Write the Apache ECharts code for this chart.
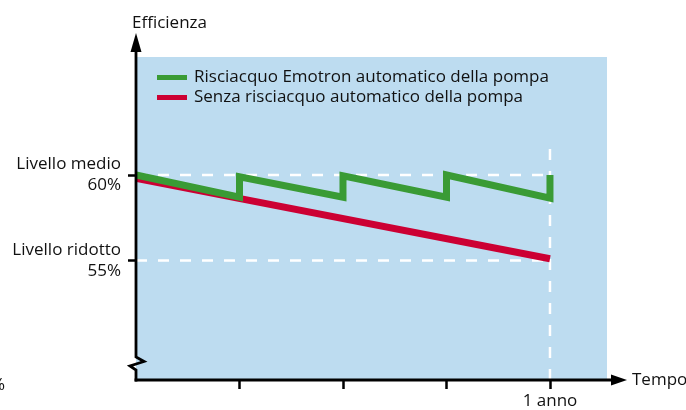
<!DOCTYPE html>
<html>
<head>
<meta charset="utf-8">
<script src="https://cdn.jsdelivr.net/npm/echarts@6/dist/echarts.min.js"></script>
<style>
html,body{margin:0;padding:0;background:#fff;}
#chart{width:686px;height:410px;}
</style>
</head>
<body>
<div id="chart"></div>
<script>
// ---- data ----
const seriesNames = ['Risciacquo Emotron automatico della pompa', 'Senza risciacquo automatico della pompa'];
const greenTime = [0, 1, 1, 2, 2, 3, 3, 4, 4];
const greenEff = [60, 58.7, 59.9, 58.7, 59.95, 58.7, 60, 58.65, 60];
const redTime = [0, 4];
const redEff = [59.8, 55.1];
const yTickValues = [55, 60];
const yTickLabels = ['Livello ridotto\n55%', 'Livello medio\n60%'];
const xTickValues = [1, 2, 3, 4];
const xLabelValues = [4];
const xLabelTexts = ['1 anno'];
const refLevels = [60, 55];
const refTime = 4;
const yName = 'Efficienza';
const xName = 'Tempo';

// ---- styles ----
const FONT = 'Open Sans';
const GREEN = '#3a9b35';
const RED = '#cc0033';
const BLUE = '#bddcf0';
const Y_MIN = 48.01, Y_MAX = 66.90, X_MIN = 0, X_MAX = 4.551;

const chart = echarts.init(document.getElementById('chart'), null, {renderer: 'canvas'});

const zip = (xs, ys) => xs.map((x, i) => [x, ys[i]]);
const dashStyle = {color: '#ffffff', width: 2.5, type: [11, 11]};

const option = {
  animation: false,
  backgroundColor: '#ffffff',
  textStyle: {fontFamily: FONT},
  grid: {left: 136, top: 57, width: 471, height: 323, show: true, backgroundColor: BLUE, borderWidth: 0,
    containLabel: false, outerBoundsMode: 'none'},
  legend: {
    data: seriesNames,
    orient: 'vertical',
    left: 152, top: 63,
    itemWidth: 30, itemHeight: 5, itemGap: 1,
    icon: 'rect',
    textStyle: {fontFamily: FONT, fontSize: 17, color: '#111', lineHeight: 19, padding: [0, 0, 0, 2]},
    selectedMode: false
  },
  xAxis: {
    type: 'value', min: X_MIN, max: X_MAX,
    name: xName, nameLocation: 'end', nameGap: 25,
    nameTextStyle: {fontFamily: FONT, fontSize: 17, color: '#111', align: 'left', verticalAlign: 'middle', padding: [4, 0, 0, 0]},
    axisLine: {show: false},
    splitLine: {show: false},
    axisTick: {show: true, inside: false, length: 9, customValues: xTickValues, lineStyle: {color: '#000', width: 2.5}},
    axisLabel: {
      customValues: xLabelValues, margin: 13,
      fontFamily: FONT, fontSize: 17, color: '#111',
      formatter: v => { const i = xLabelValues.indexOf(v); return i >= 0 ? xLabelTexts[i] : ''; }
    }
  },
  yAxis: {
    type: 'value', min: Y_MIN, max: Y_MAX,
    name: yName, nameLocation: 'end', nameGap: 34,
    nameTextStyle: {fontFamily: FONT, fontSize: 17, color: '#111', align: 'left', verticalAlign: 'middle', padding: [0, 0, 0, -4]},
    axisLine: {show: false},
    splitLine: {show: false},
    axisTick: {show: true, inside: false, length: 8, customValues: yTickValues, lineStyle: {color: '#000', width: 2.5}},
    axisLabel: {
      customValues: yTickValues, margin: 15, align: 'right',
      fontFamily: FONT, fontSize: 17, color: '#111', lineHeight: 21, padding: [4, 0, 0, 0],
      formatter: v => { const i = yTickValues.indexOf(v); return i >= 0 ? yTickLabels[i] : ''; }
    }
  },
  series: [
    {type: 'line', name: '_ref60', data: [[0, refLevels[0]], [refTime, refLevels[0]]], symbol: 'none', silent: true, lineStyle: dashStyle, z: 1},
    {type: 'line', name: '_ref55', data: [[0, refLevels[1]], [refTime, refLevels[1]]], symbol: 'none', silent: true, lineStyle: dashStyle, z: 1},
    {type: 'line', name: '_refT', data: [[refTime, Y_MIN], [refTime, 61.65]], symbol: 'none', silent: true, lineStyle: dashStyle, z: 1},
    {type: 'line', name: seriesNames[1], data: zip(redTime, redEff), symbol: 'none', color: RED,
      lineStyle: {color: RED, width: 7, cap: 'butt', join: 'miter'}, z: 2},
    {type: 'line', name: seriesNames[0], data: zip(greenTime, greenEff), symbol: 'none', color: GREEN,
      lineStyle: {color: GREEN, width: 7, cap: 'butt', join: 'miter', miterLimit: 20}, z: 3}
  ]
};
chart.setOption(option);

// axes with arrows and a break on the vertical axis, placed from the grid's own scale
const o = chart.convertToPixel({gridIndex: 0}, [X_MIN, Y_MIN]);
const tr = chart.convertToPixel({gridIndex: 0}, [X_MAX, Y_MAX]);
const x0 = o[0], yb = o[1], xr = tr[0], yt = tr[1];
const ax = {stroke: '#000', lineWidth: 2.8, lineJoin: 'miter'};
chart.setOption({
  graphic: [
    {type: 'polyline', silent: true, z: 10, shape: {points: [
      [x0, yb + 1.4], [x0, yb - 10], [x0 - 6, yb - 14], [x0 + 8, yb - 18.5], [x0, yb - 23], [x0, yt - 6]
    ]}, style: Object.assign({fill: null}, ax)},
    {type: 'polygon', silent: true, z: 10, shape: {points: [[x0 - 5.5, yt - 5], [x0, yt - 24], [x0 + 5.5, yt - 5]]}, style: {fill: '#000'}},
    {type: 'line', silent: true, z: 10, shape: {x1: x0 - 1.4, y1: yb, x2: xr + 6, y2: yb}, style: ax},
    {type: 'polygon', silent: true, z: 10, shape: {points: [[xr + 4, yb - 5.5], [xr + 20, yb], [xr + 4, yb + 5.5]]}, style: {fill: '#000'}},
    {type: 'text', silent: true, z: 10, style: {text: '%', x: -9, y: yb + 5, fontFamily: FONT, fontSize: 17, fill: '#111', textAlign: 'left', textVerticalAlign: 'middle'}}
  ]
});
</script>
</body>
</html>
